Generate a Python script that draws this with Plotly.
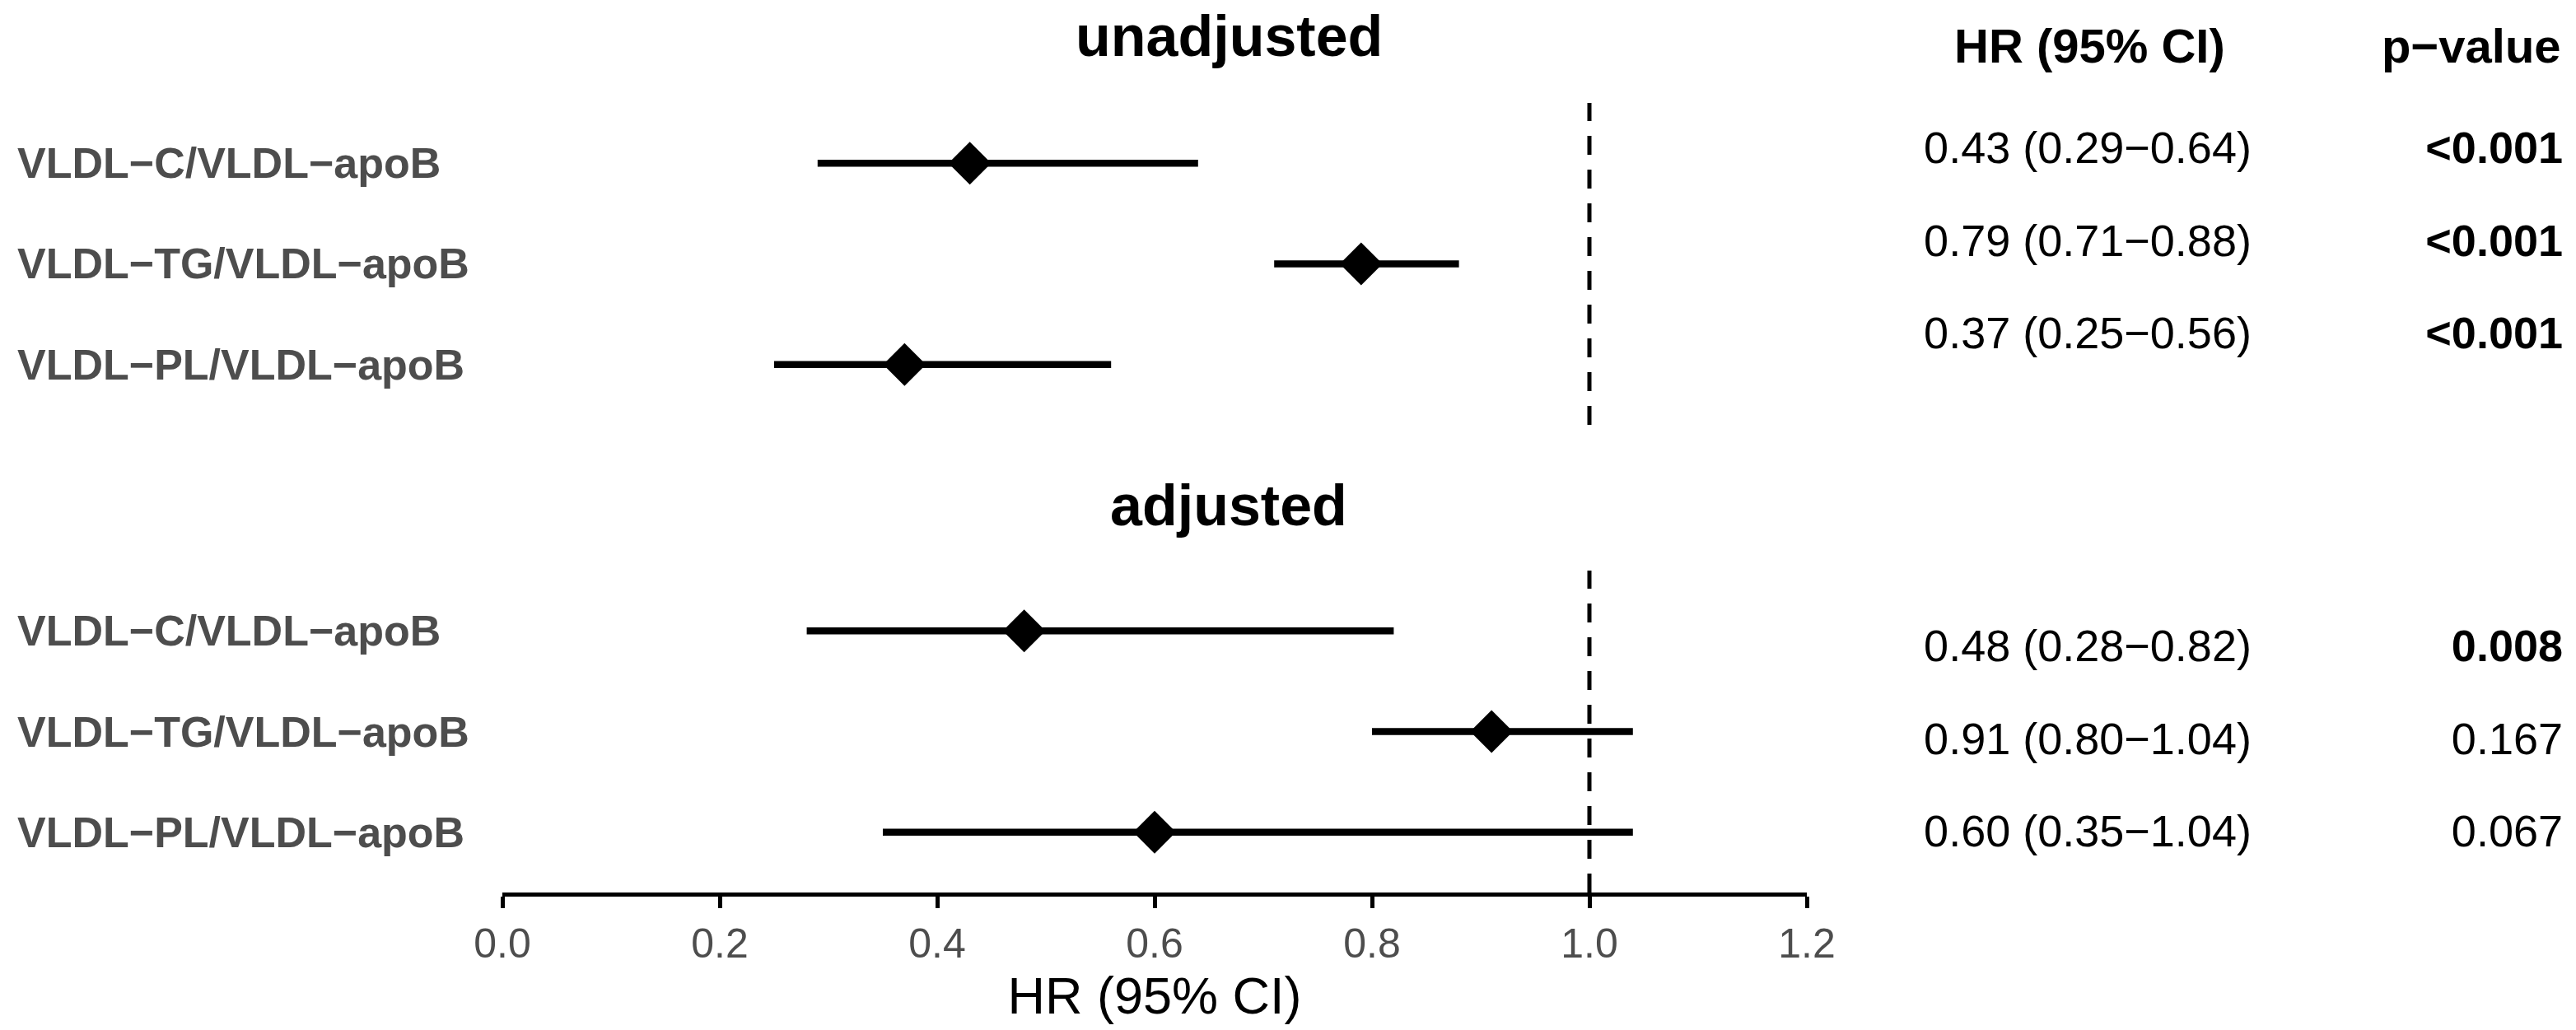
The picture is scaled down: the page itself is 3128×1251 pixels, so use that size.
import plotly.graph_objects as go

W, H = 3128, 1251

# ---------------- data ----------------
labels = ["VLDL−C/VLDL−apoB", "VLDL−TG/VLDL−apoB", "VLDL−PL/VLDL−apoB"]
rows = [1, 2, 3]

unadj_hr = [0.43, 0.79, 0.37]
unadj_lo = [0.29, 0.71, 0.25]
unadj_hi = [0.64, 0.88, 0.56]
unadj_p = ["<0.001", "<0.001", "<0.001"]
unadj_p_bold = [True, True, True]

adj_hr = [0.48, 0.91, 0.60]
adj_lo = [0.28, 0.80, 0.35]
adj_hi = [0.82, 1.04, 1.04]
adj_p = ["0.008", "0.167", "0.067"]
adj_p_bold = [True, False, False]

x_ticks = [0.0, 0.2, 0.4, 0.6, 0.8, 1.0, 1.2]
x_ticktext = ["0.0", "0.2", "0.4", "0.6", "0.8", "1.0", "1.2"]
ref_line = 1.0

FONT = "Liberation Sans, Arial, Helvetica, sans-serif"
GREY = "#4d4d4d"


def px(x):
    return x / W


def py(y):
    return 1 - y / H


def fmt_ci(hr, lo, hi):
    return f"{hr:.2f} ({lo:.2f}−{hi:.2f})"


fig = go.Figure()

# ---------------- forest panels ----------------
for hr, lo, hi, xa, ya in [(unadj_hr, unadj_lo, unadj_hi, "x", "y"),
                           (adj_hr, adj_lo, adj_hi, "x2", "y2")]:
    fig.add_trace(go.Scatter(
        x=hr, y=rows, xaxis=xa, yaxis=ya, mode="markers",
        marker=dict(symbol="diamond", size=40, color="black", line=dict(width=0)),
        error_x=dict(type="data", symmetric=False,
                     array=[h - m for h, m in zip(hi, hr)],
                     arrayminus=[m - l for m, l in zip(hr, lo)],
                     width=0, thickness=8.5, color="black"),
        showlegend=False, hoverinfo="skip", cliponaxis=False))
    fig.add_shape(type="line", xref=xa, yref=f"{ya} domain",
                  x0=ref_line, x1=ref_line, y0=0, y1=1,
                  line=dict(color="black", width=5, dash="23px,18px"), layer="above")

# ---------------- table panels ----------------
for hr, lo, hi, pv, pb, ya in [(unadj_hr, unadj_lo, unadj_hi, unadj_p, unadj_p_bold, "y3"),
                               (adj_hr, adj_lo, adj_hi, adj_p, adj_p_bold, "y4")]:
    fig.add_trace(go.Scatter(
        x=[2535] * len(rows), y=rows, xaxis="x3", yaxis=ya, mode="text",
        text=[fmt_ci(h, l, u) for h, l, u in zip(hr, lo, hi)],
        textposition="middle center",
        textfont=dict(family=FONT, size=54, color="black"),
        showlegend=False, hoverinfo="skip", cliponaxis=False))
    fig.add_trace(go.Scatter(
        x=[3112] * len(rows), y=rows, xaxis="x3", yaxis=ya, mode="text",
        text=[f"<b>{p}</b>" if b else p for p, b in zip(pv, pb)],
        textposition="middle left",
        textfont=dict(family=FONT, size=54, color="black"),
        showlegend=False, hoverinfo="skip", cliponaxis=False))

# ---------------- row labels ----------------
for ya in ["y", "y2"]:
    for lab, r in zip(labels, rows):
        fig.add_annotation(x=px(19), xref="paper", y=r, yref=ya, text=f"<b>{lab}</b>",
                           showarrow=False, xanchor="left", yanchor="middle",
                           font=dict(family=FONT, size=52, color=GREY))

# ---------------- titles / headers ----------------
fig.add_annotation(x=px(1492), y=py(44), xref="paper", yref="paper", text="<b>unadjusted</b>",
                   showarrow=False, xanchor="center", yanchor="middle",
                   font=dict(family=FONT, size=70, color="black"))
fig.add_annotation(x=px(1492), y=py(614), xref="paper", yref="paper", text="<b>adjusted</b>",
                   showarrow=False, xanchor="center", yanchor="middle",
                   font=dict(family=FONT, size=70, color="black"))
fig.add_annotation(x=px(2537), y=py(55), xref="paper", yref="paper", text="<b>HR (95% CI)</b>",
                   showarrow=False, xanchor="center", yanchor="middle",
                   font=dict(family=FONT, size=58, color="black"))
fig.add_annotation(x=px(3112), y=py(55), xref="paper", yref="paper", text="<b>p−value</b>",
                   showarrow=False, xanchor="right", yanchor="middle",
                   font=dict(family=FONT, size=58, color="black"))

xdom = [px(610), px(2194)]
hidden = dict(visible=False, showgrid=False, zeroline=False, automargin=False)

fig.update_layout(
    template="none",
    width=W, height=H, autosize=False,
    margin=dict(l=0, r=0, t=0, b=0, pad=0, autoexpand=False),
    paper_bgcolor="white", plot_bgcolor="rgba(0,0,0,0)",
    showlegend=False,
    xaxis=dict(domain=xdom, range=[0, 1.2], anchor="y", **hidden),
    yaxis=dict(domain=[py(516), py(125)], range=[3.6, 0.4], anchor="x", **hidden),
    xaxis2=dict(domain=xdom, range=[0, 1.2], anchor="y2", automargin=False,
                showline=True, linecolor="black", linewidth=5,
                ticks="outside", ticklen=14, tickwidth=5, tickcolor="black",
                tickvals=x_ticks, ticktext=x_ticktext,
                tickfont=dict(family=FONT, size=50, color=GREY),
                showgrid=False, zeroline=False,
                title=dict(text="HR (95% CI)", standoff=14,
                           font=dict(family=FONT, size=63, color="black"))),
    yaxis2=dict(domain=[py(1084), py(693)], range=[3.6, 0.4], anchor="x2", **hidden),
    xaxis3=dict(domain=[0, 1], range=[0, W], anchor="y3", **hidden),
    yaxis3=dict(domain=[py(477), py(117)], range=[3.6, 0.4], anchor="x3", **hidden),
    yaxis4=dict(domain=[py(1082), py(722)], range=[3.6, 0.4], anchor="x3", **hidden),
)

fig.write_html("out.html")
